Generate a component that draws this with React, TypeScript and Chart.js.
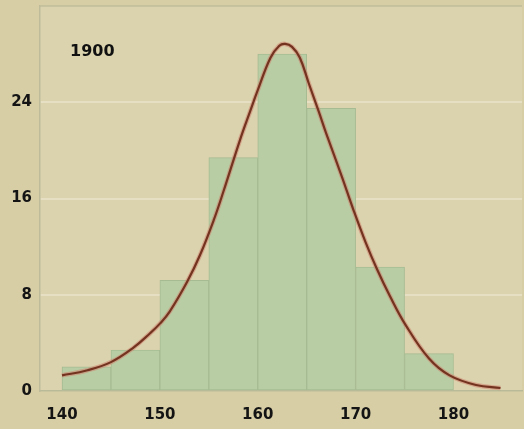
import React, { useEffect, useRef } from "react";
import { Chart, registerables } from "chart.js";

Chart.register(...registerables);

const chartLabel = "1900";
const binStarts = [140, 145, 150, 155, 160, 165, 170, 175];
const binWidth = 5;
const binCounts = [2.0, 3.4, 9.2, 19.4, 28.0, 23.5, 10.3, 3.1];

const curveX = [
  140, 142.5, 145, 147.3, 149, 150, 151, 152.8, 154.1, 155.5, 156.5, 158.2, 159.2, 160,
  161.3, 162.2, 162.8, 163.5, 164.3, 165.2, 166.2, 167, 168.6, 169.8, 171, 172.2,
  173.5, 175.1, 177.5, 179.6, 182.3, 184.8,
];
const curveY = [
  1.3, 1.7, 2.4, 3.6, 4.8, 5.6, 6.6, 9.1, 11.3, 14.2, 16.6, 20.9, 23.2, 25.0,
  27.7, 28.7, 28.85, 28.6, 27.7, 25.6, 23.3, 21.4, 17.8, 15.0, 12.4, 10.1,
  7.9, 5.5, 2.7, 1.3, 0.5, 0.25,
];

const xTicks = [140, 150, 160, 170, 180];
const yTicks = [0, 8, 16, 24];

const FONT = "'DejaVu Sans', sans-serif";

export default function App() {
  const ref = useRef<HTMLCanvasElement | null>(null);

  useEffect(() => {
    if (!ref.current) return;
    const bars = binStarts.map((s, i) => ({ x: s + binWidth / 2, y: binCounts[i] }));
    const curve = curveX.map((x, i) => ({ x, y: curveY[i] }));

    const bgPlugin = {
      id: "paper",
      beforeDraw(chart: any) {
        const { ctx, chartArea: a, width, height } = chart;
        ctx.save();
        ctx.fillStyle = "#d7cea6";
        ctx.fillRect(0, 0, width, height);
        ctx.fillStyle = "#dbd3ae";
        ctx.fillRect(a.left, a.top, a.right - a.left, a.bottom - a.top);
        ctx.restore();
      },
      afterDatasetsDraw(chart: any) {
        const { ctx, chartArea: a } = chart;
        ctx.save();
        ctx.strokeStyle = "#c0bd9a";
        ctx.lineWidth = 1.5;
        ctx.beginPath();
        ctx.moveTo(a.left, a.top);
        ctx.lineTo(a.right, a.top);
        ctx.stroke();
        ctx.fillStyle = "#111";
        ctx.font = `bold 16px ${FONT}`;
        ctx.textBaseline = "middle";
        ctx.textAlign = "left";
        ctx.fillText(chartLabel, a.left + 30, a.top + 46);
        ctx.restore();
      },
    };

    const chart = new Chart(ref.current, {
      type: "bar",
      data: {
        datasets: [
          {
            type: "line",
            data: curve,
            borderColor: "#74331f",
            borderWidth: 2.2,
            pointRadius: 0,
            tension: 0.4,
            fill: false,
            order: 0,
          } as any,
          {
            type: "line",
            data: curve,
            borderColor: "rgba(205,130,110,0.55)",
            borderWidth: 4.5,
            pointRadius: 0,
            tension: 0.4,
            fill: false,
            order: 1,
          } as any,
          {
            type: "bar",
            data: bars,
            backgroundColor: "#b8cda4",
            borderColor: "#a6bb92",
            borderWidth: 1,
            borderSkipped: false,
            barPercentage: 1,
            categoryPercentage: 1,
            order: 2,
          } as any,
        ],
      },
      options: {
        responsive: false,
        animation: false,
        layout: { padding: { top: 6, right: 2, left: 0, bottom: 0 } },
        plugins: {
          legend: { display: false },
          tooltip: { enabled: false },
          title: { display: false },
        },
        scales: {
          x: {
            type: "linear",
            offset: false,
            min: 137.75,
            max: 187,
            afterBuildTicks(scale: any) {
              scale.ticks = xTicks.map((v) => ({ value: v }));
            },
            afterFit(scale: any) {
              scale.height = 38;
            },
            grid: { display: false, drawTicks: false, offset: false },
            border: { display: true, color: "#b9bb98", width: 1.5 },
            ticks: {
              color: "#141414",
              font: { family: FONT, size: 15, weight: "bold" },
              padding: 15,
              maxRotation: 0,
              autoSkip: false,
            },
          },
          y: {
            type: "linear",
            min: 0,
            max: 32,
            afterBuildTicks(scale: any) {
              scale.ticks = yTicks.map((v) => ({ value: v }));
            },
            afterFit(scale: any) {
              scale.width = 40;
              scale.paddingTop = 0;
              scale.paddingBottom = 0;
            },
            grid: {
              drawTicks: false,
              color: (c: any) => (c.tick && c.tick.value === 0 ? "rgba(0,0,0,0)" : "#e6dfc3"),
              lineWidth: 2,
            },
            border: { display: true, color: "#bdbb99", width: 1.5 },
            ticks: {
              color: "#141414",
              font: { family: FONT, size: 15, weight: "bold" },
              padding: 8,
              autoSkip: false,
            },
          },
        },
      } as any,
      plugins: [bgPlugin],
    });
    return () => chart.destroy();
  }, []);

  return (
    <div style={{ position: "fixed", left: 0, top: 0, width: 524, height: 429 }}>
      <canvas ref={ref} width={524} height={429} />
    </div>
  );
}
